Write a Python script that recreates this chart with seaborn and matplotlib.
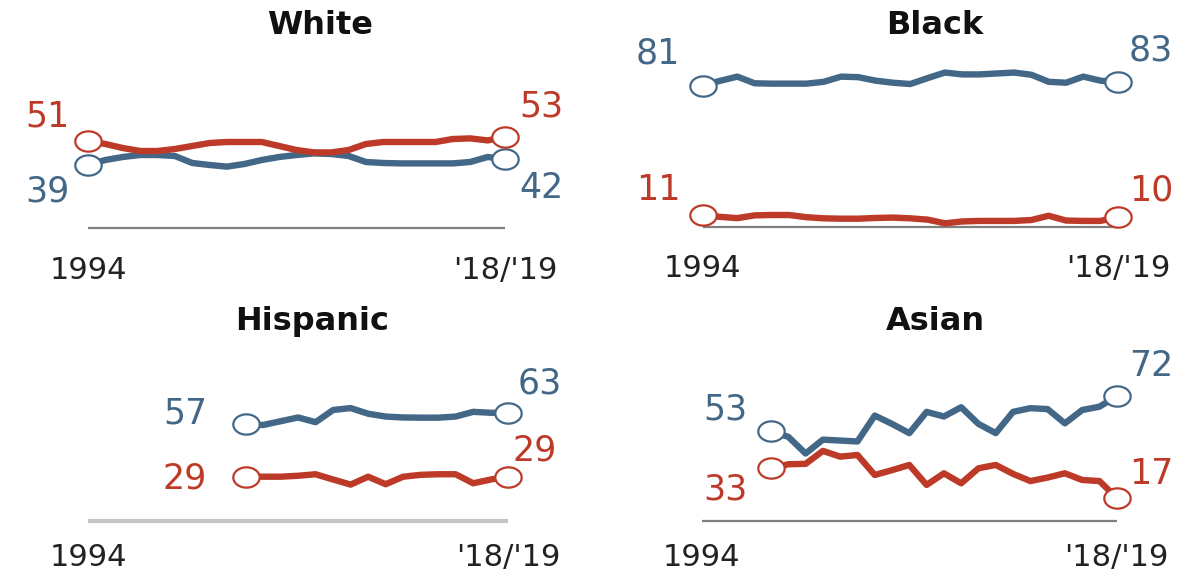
import numpy as np
import pandas as pd
import matplotlib
matplotlib.use("Agg")
import matplotlib.pyplot as plt
import seaborn as sns
from matplotlib.path import Path

# ---------------- data ----------------
years_full = list(range(1994, 2019))      # 2018 stands for '18/'19
hisp_years = list(range(2003, 2019))
asian_years = list(range(1998, 2019))

white_dem = [39, 41.5, 43, 44, 44, 43.5, 40, 39, 38.2, 39.5, 41.5, 43, 44, 44.8, 44.5,
             43.5, 40.5, 40, 39.8, 39.8, 39.8, 39.8, 40.5, 43, 42]
white_rep = [51, 49.5, 47.5, 46, 46, 47, 48.5, 50, 50.5, 50.5, 50.5, 48.5, 46.5, 45.3, 45.3,
             46.5, 49.5, 50.5, 50.5, 50.5, 50.5, 52, 52.3, 51.3, 53]

black_dem = [81, 83.5, 85.8, 82.2, 82, 82, 82, 83, 85.8, 85.5, 83.6, 82.5, 81.8, 85, 88,
             87, 87, 87.5, 88, 86.8, 83, 82.5, 85.8, 83.6, 83]
black_rep = [11, 10, 9.3, 10.8, 11, 11, 9.8, 9.2, 9, 9, 9.4, 9.6, 9.2, 8.5, 6.5,
             7.5, 7.8, 7.8, 7.8, 8.3, 10.6, 8, 7.8, 7.8, 10]

hisp_dem = [57, 56.5, 58.5, 60.5, 58, 64.5, 65.5, 62.5, 61, 60.5, 60.4, 60.4, 61, 63.5, 63, 63]
hisp_rep = [29, 29, 29, 29.5, 30.3, 27.5, 24.8, 29, 25, 29, 30, 30.3, 30.3, 25.5, 27.5, 29]

asian_dem = [53, 50, 41, 48.5, 48, 47.5, 61.5, 57, 52, 63.5, 61, 66, 57, 52, 63.5, 65.5,
             65, 57.3, 64.5, 66.3, 72]
asian_rep = [33, 35.2, 35.4, 42.4, 39.3, 40.2, 29.4, 32, 34.8, 24, 30.3, 24.9, 33, 34.8,
             30, 26.1, 28, 30.3, 26.7, 26.1, 17]

panel_titles = ["White", "Black", "Hispanic", "Asian"]
tick_positions = [1994, 2018]
tick_labels = ["1994", "'18/'19"]

# ---------------- style ----------------
BLUE = "#436887"
RED = "#BE3A28"
W, H = 1199, 575

sns.set_theme(style="white")
plt.rcParams["font.family"] = ["DejaVu Sans"]

fig = plt.figure(figsize=(W / 100, H / 100), dpi=100)

t = np.linspace(0, 2 * np.pi, 73)
ellipse = Path(np.column_stack([1.3 * np.cos(t), np.sin(t)]))

panels = [
    dict(title=panel_titles[0], years=years_full, dem=white_dem, rep=white_rep,
         rect=(0, 600, 40, 228), x0=88, ppy=17.375, yint=243.0, s=2.0,
         base_color="#7f7f7f", base_lw=1.6, pad=20.4, title_xy=(320, 22),
         lab=dict(ds=(47, 188), rs=(47, 113), de=(541, 185), re=(541, 103))),
    dict(title=panel_titles[1], years=years_full, dem=black_dem, rep=black_rep,
         rect=(600, 1199, 40, 226.7), x0=702.7, ppy=17.30, yint=235.35, s=1.85,
         base_color="#7f7f7f", base_lw=1.6, pad=20.0, title_xy=(935, 22),
         lab=dict(ds=(658, 50), rs=(658, 186), de=(1151, 47), re=(1151, 187))),
    dict(title=panel_titles[2], years=hisp_years, dem=hisp_dem, rep=hisp_rep,
         rect=(0, 600, 335, 521), x0=88, ppy=17.51, yint=531.22, s=1.88,
         base_color="#c4c4c4", base_lw=3.0, pad=16.0, title_xy=(312, 318),
         lab=dict(ds=(185, 410), rs=(185, 475), de=(540, 380), re=(535, 447))),
    dict(title=panel_titles[3], years=asian_years, dem=asian_dem, rep=asian_rep,
         rect=(600, 1199, 335, 521), x0=701.9, ppy=17.285, yint=529.35, s=1.85,
         base_color="#7f7f7f", base_lw=1.6, pad=16.0, title_xy=(935, 318),
         lab=dict(ds=(725, 406), rs=(725, 486), de=(1151, 363), re=(1151, 470))),
]


def ftext(x, y, s, **kw):
    fig.text(x / W, 1 - y / H, s, ha="center", va="center_baseline", **kw)


for p in panels:
    L, R, T, B = p["rect"]
    ax = fig.add_axes([L / W, 1 - B / H, (R - L) / W, (B - T) / H])
    yrs = p["years"]
    n = len(yrs)
    df = pd.DataFrame({
        "year": yrs + yrs,
        "value": p["dem"] + p["rep"],
        "party": ["Dem"] * n + ["Rep"] * n,
    })
    sns.lineplot(data=df, x="year", y="value", hue="party",
                 palette={"Dem": BLUE, "Rep": RED}, linewidth=4.6,
                 legend=False, errorbar=None, ax=ax, clip_on=False,
                 solid_joinstyle="round", solid_capstyle="round")
    for vals, col in ((p["dem"], BLUE), (p["rep"], RED)):
        ax.plot([yrs[0], yrs[-1]], [vals[0], vals[-1]], ls="none", marker=ellipse,
                ms=19, mfc="white", mec=col, mew=1.6, zorder=5, clip_on=False)

    x_lo = 1994 + (L - p["x0"]) / p["ppy"]
    x_hi = 1994 + (R - p["x0"]) / p["ppy"]
    y_lo = (p["yint"] - B) / p["s"]
    y_hi = (p["yint"] - T) / p["s"]
    ax.set_xlim(x_lo, x_hi)
    ax.set_ylim(y_lo, y_hi)
    ax.hlines(y_lo, tick_positions[0], tick_positions[1], color=p["base_color"],
              lw=p["base_lw"], clip_on=False, zorder=1)

    ax.set_xticks(tick_positions, tick_labels)
    ax.set_yticks([])
    ax.tick_params(axis="x", length=0, pad=p["pad"], labelsize=22, labelcolor="#222222")
    ax.set(xlabel="", ylabel="")
    for sp in ax.spines.values():
        sp.set_visible(False)
    ax.patch.set_alpha(0)

    ftext(*p["title_xy"], p["title"], fontsize=23, fontweight="bold", color="#111111")
    lab = p["lab"]
    ftext(*lab["ds"], f"{p['dem'][0]:.0f}", fontsize=25, color=BLUE)
    ftext(*lab["rs"], f"{p['rep'][0]:.0f}", fontsize=25, color=RED)
    ftext(*lab["de"], f"{p['dem'][-1]:.0f}", fontsize=25, color=BLUE)
    ftext(*lab["re"], f"{p['rep'][-1]:.0f}", fontsize=25, color=RED)

fig.savefig("out.png", dpi=100, facecolor="white")
